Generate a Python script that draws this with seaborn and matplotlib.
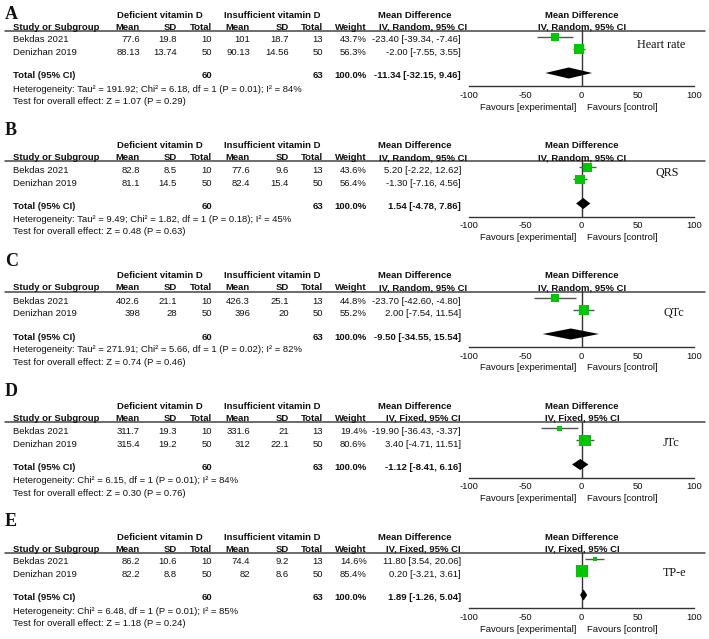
import numpy as np
import pandas as pd
import seaborn as sns
import matplotlib.pyplot as plt

sns.set_style('white')
plt.rcParams['font.family'] = ['Liberation Sans', 'DejaVu Sans']
plt.rcParams['font.size'] = 6.8
plt.rcParams['axes.unicode_minus'] = False

# ---- data ----
letters = ['A', 'B', 'C', 'D', 'E']
outcomes = ['Heart rate', 'QRS', 'QTc', 'JTc', 'TP-e']
models = ['Random', 'Random', 'Random', 'Fixed', 'Fixed']
studies = ['Bekdas 2021', 'Denizhan 2019']

def_mean = [[77.6, 88.13], [82.8, 81.1], [402.6, 398], [311.7, 315.4], [86.2, 82.2]]
def_sd = [[19.8, 13.74], [8.5, 14.5], [21.1, 28], [19.3, 19.2], [10.6, 8.8]]
def_n = [10, 50]
ins_mean = [[101, 90.13], [77.6, 82.4], [426.3, 396], [331.6, 312], [74.4, 82]]
ins_sd = [[18.7, 14.56], [9.6, 15.4], [25.1, 20], [21, 22.1], [9.2, 8.6]]
ins_n = [13, 50]
weights = [[43.7, 56.3], [43.6, 56.4], [44.8, 55.2], [19.4, 80.6], [14.6, 85.4]]

md = [[-23.40, -2.00], [5.20, -1.30], [-23.70, 2.00], [-19.90, 3.40], [11.80, 0.20]]
ci_lo = [[-39.34, -7.55], [-2.22, -7.16], [-42.60, -7.54], [-36.43, -4.71], [3.54, -3.21]]
ci_hi = [[-7.46, 3.55], [12.62, 4.56], [-4.80, 11.54], [-3.37, 11.51], [20.06, 3.61]]

total_md = [-11.34, 1.54, -9.50, -1.12, 1.89]
total_lo = [-32.15, -4.78, -34.55, -8.41, -1.26]
total_hi = [9.46, 7.86, 15.54, 6.16, 5.04]

heterogeneity = [
    'Heterogeneity: Tau² = 191.92; Chi² = 6.18, df = 1 (P = 0.01); I² = 84%',
    'Heterogeneity: Tau² = 9.49; Chi² = 1.82, df = 1 (P = 0.18); I² = 45%',
    'Heterogeneity: Tau² = 271.91; Chi² = 5.66, df = 1 (P = 0.02); I² = 82%',
    'Heterogeneity: Chi² = 6.15, df = 1 (P = 0.01); I² = 84%',
    'Heterogeneity: Chi² = 6.48, df = 1 (P = 0.01); I² = 85%',
]
overall = ['Z = 1.07 (P = 0.29)', 'Z = 0.48 (P = 0.63)', 'Z = 0.74 (P = 0.46)',
           'Z = 0.30 (P = 0.76)', 'Z = 1.18 (P = 0.24)']

green = '#00c800'
ink = '#111111'
W, Hgt = 709, 639

fig = plt.figure(figsize=(W / 100, Hgt / 100), dpi=100)
page = fig.add_axes([0, 0, 1, 1])
page.set_xlim(0, W)
page.set_ylim(Hgt, 0)
page.axis('off')


def txt(x, y, s, ha='left', bold=False, **kw):
    page.text(x, y, s, ha=ha, va='center_baseline', color=ink,
              fontweight='bold' if bold else 'normal', **kw)


letter_base = [5, -9.5, -9.5, -9.5, -9.5]   # baseline offset of panel letter from header row
outcome_pos = [(637, 29), (656, 27), (663, 36), (663, 36), (663, 36)]

for i in range(5):
    H = 14 + 130.5 * i
    ci_txt = 'IV, %s, 95%% CI' % models[i]

    page.text(5, H + letter_base[i], letters[i], ha='left', va='baseline',
              fontsize=13, fontweight='bold', family='Liberation Serif', color=ink)

    # headers
    txt(117, H, 'Deficient vitamin D', bold=True)
    txt(224, H, 'Insufficient vitamin D', bold=True)
    txt(378, H, 'Mean Difference', bold=True)
    txt(582, H, 'Mean Difference', ha='center', bold=True)
    r2 = H + 12
    txt(13, r2, 'Study or Subgroup', bold=True)
    for x, s in [(140, 'Mean'), (177, 'SD'), (212, 'Total'), (250, 'Mean'),
                 (289, 'SD'), (323, 'Total'), (367, 'Weight')]:
        txt(x, r2, s, ha='right', bold=True)
    txt(423, r2, ci_txt, ha='center', bold=True)
    txt(582, r2, ci_txt, ha='center', bold=True)
    page.plot([5, 705], [H + 16.5, H + 16.5], color='#444444', lw=1.1)

    # study rows
    for j in range(2):
        y = H + 25 + 12.7 * j
        txt(13, y, studies[j])
        txt(140, y, f'{def_mean[i][j]:g}', ha='right')
        txt(177, y, f'{def_sd[i][j]:g}', ha='right')
        txt(212, y, str(def_n[j]), ha='right')
        txt(250, y, f'{ins_mean[i][j]:g}', ha='right')
        txt(289, y, f'{ins_sd[i][j]:g}', ha='right')
        txt(323, y, str(ins_n[j]), ha='right')
        txt(367, y, f'{weights[i][j]:.1f}%', ha='right')
        txt(461, y, f'{md[i][j]:.2f} [{ci_lo[i][j]:.2f}, {ci_hi[i][j]:.2f}]', ha='right')

    y = H + 61
    txt(13, y, 'Total (95% CI)', bold=True)
    txt(212, y, str(sum(def_n)), ha='right', bold=True)
    txt(323, y, str(sum(ins_n)), ha='right', bold=True)
    txt(367, y, '100.0%', ha='right', bold=True)
    txt(461, y, f'{total_md[i]:.2f} [{total_lo[i]:.2f}, {total_hi[i]:.2f}]', ha='right', bold=True)
    txt(13, H + 74, heterogeneity[i])
    txt(13, H + 86.5, 'Test for overall effect: ' + overall[i])

    txt(576, H + 92, 'Favours [experimental]', ha='right')
    txt(587, H + 92, 'Favours [control]', ha='left')

    # forest panel
    ax = fig.add_axes([469 / W, 1 - (H + 72) / Hgt, 225 / W, 56 / Hgt])
    ax.set_facecolor('none')
    df = pd.DataFrame({'md': md[i], 'row': [0, 1], 'weight': weights[i]})
    ax.axvline(0, color='#333333', lw=1, zorder=1)
    ax.hlines(df['row'], ci_lo[i], ci_hi[i], color='#555555', lw=1, zorder=2)
    sns.scatterplot(data=df, x='md', y='row', size='weight', sizes=(0, 90),
                    size_norm=(5, 100), marker='s', color=green, linewidth=0,
                    legend=False, ax=ax, zorder=3)
    h = 0.46
    ax.fill([total_lo[i], total_md[i], total_hi[i], total_md[i]],
            [3, 3 - h, 3, 3 + h], color='black', lw=0, zorder=3)
    ax.set_xlim(-100, 100)
    ax.set_ylim(4.083, -0.583)
    ax.set_xticks([-100, -50, 0, 50, 100])
    ax.set_yticks([])
    ax.set_xlabel('')
    ax.set_ylabel('')
    for s in ['left', 'top', 'right']:
        ax.spines[s].set_visible(False)
    ax.spines['bottom'].set_color('#333333')
    ax.spines['bottom'].set_linewidth(1)
    ax.tick_params(axis='x', direction='inout', length=5, width=1, pad=1,
                   labelsize=6.8, colors='#333333', labelcolor=ink)
    ox, oy = outcome_pos[i]
    txt(ox, H + oy, outcomes[i], family='Liberation Serif', fontsize=8.7)

fig.savefig('out.png', dpi=100)
